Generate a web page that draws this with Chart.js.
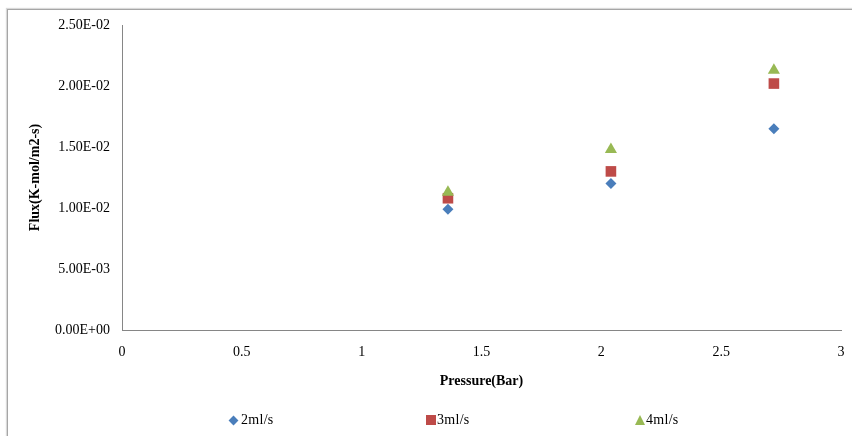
<!DOCTYPE html>
<html>
<head>
<meta charset="utf-8">
<script src="https://cdn.jsdelivr.net/npm/chart.js@4/dist/chart.umd.min.js"></script>
<style>
  body { margin: 0; background: #fff; overflow: hidden; }
  #wrap { position: relative; width: 852px; height: 436px; }
  #frame { position: absolute; left: 7px; top: 9px; width: 900px; height: 500px;
           border-top: 1px solid #a6a6a6; border-left: 1px solid #a6a6a6;
           box-shadow: -1px -1px 1px #d9d9d9; }
  #fluxChart { position: absolute; left: 0; top: 0; }
  .legend-item { position: absolute; top: 412px; font: 14px "Liberation Serif", "Times New Roman", serif;
                 color: #000; display: flex; align-items: center; white-space: nowrap; letter-spacing: 0.3px; }
  .mk { display: inline-block; margin-right: 2px; }
</style>
</head>
<body>
<div id="wrap">
  <div id="frame"></div>
  <canvas id="fluxChart" width="852" height="436"></canvas>
</div>
<script>
// values
const pressure = [1.36, 2.04, 2.72];
const flux2 = [0.0099, 0.0120, 0.0165];
const flux3 = [0.0108, 0.0130, 0.0202];
const flux4 = [0.0113, 0.0148, 0.0213];
const seriesNames = ['2ml/s', '3ml/s', '4ml/s'];

const colors = ['#4a7ebb', '#be4b48', '#98b954'];
const shapes = ['rectRot', 'rect', 'triangle'];
const radii = [5.5, 7.5, 7];
const legendLeft = [228, 426, 635];

const serif = '"Liberation Serif", "Times New Roman", serif';

function toPoints(ys) {
    return pressure.map((x, i) => ({ x: x, y: ys[i] }));
}

// Excel style scientific labels, e.g. 2.50E-02
function sciLabel(v) {
    const s = Number(v).toExponential(2).toUpperCase();
    const parts = s.split('E');
    const sign = parts[1][0];
    const exp = parts[1].slice(1).padStart(2, '0');
    return parts[0] + 'E' + sign + exp;
}

const datasets = [flux2, flux3, flux4].map((ys, i) => ({
    label: seriesNames[i],
    data: toPoints(ys),
    pointStyle: shapes[i],
    pointRadius: radii[i],
    pointHoverRadius: radii[i],
    backgroundColor: colors[i],
    borderColor: colors[i],
    borderWidth: 0,
    showLine: false,
    order: 3 - i
}));

const ctx = document.getElementById('fluxChart').getContext('2d');
new Chart(ctx, {
    type: 'scatter',
    data: { datasets },
    options: {
        responsive: false,
        devicePixelRatio: 1,
        animation: false,
        layout: { padding: { left: 7, top: 25, right: 11, bottom: 0 } },
        plugins: {
            legend: { display: false },
            tooltip: { enabled: false }
        },
        scales: {
            x: {
                type: 'linear',
                min: 0,
                max: 3,
                ticks: {
                    stepSize: 0.5,
                    padding: 3,
                    color: '#000',
                    font: { family: serif, size: 14 },
                    callback: (v) => String(Math.round(v * 10) / 10)
                },
                // grid hidden, tick length only used as the gap under the axis
                grid: { display: false, drawTicks: true, tickLength: 11 },
                border: { display: true, color: '#868686', width: 1 },
                title: {
                    display: true,
                    text: 'Pressure(Bar)',
                    color: '#000',
                    font: { family: serif, size: 14, weight: 'bold' },
                    padding: { top: 0, bottom: 46 }
                },
                afterFit(scale) { scale.height = 106; }
            },
            y: {
                type: 'linear',
                min: 0,
                max: 0.025,
                ticks: {
                    stepSize: 0.005,
                    padding: 12,
                    color: '#000',
                    font: { family: serif, size: 14 },
                    callback: (v) => sciLabel(v)
                },
                grid: { display: false, drawTicks: false },
                border: { display: true, color: '#868686', width: 1 },
                title: {
                    display: true,
                    text: 'Flux(K-mol/m2-s)',
                    color: '#000',
                    font: { family: serif, size: 14, weight: 'bold' },
                    padding: { top: 20, bottom: 0 }
                },
                afterFit(scale) { scale.width = 115; }
            }
        }
    }
});

// legend row under the chart, built from the same series lists
const wrap = document.getElementById('wrap');
seriesNames.forEach((name, i) => {
    const item = document.createElement('div');
    item.className = 'legend-item';
    item.style.left = legendLeft[i] + 'px';
    const mk = document.createElement('span');
    mk.className = 'mk';
    if (shapes[i] === 'rectRot') {
        mk.style.cssText = 'width:7px;height:7px;background:' + colors[i] + ';transform:rotate(45deg);margin:0 4px 0 2px;';
    } else if (shapes[i] === 'rect') {
        mk.style.cssText = 'width:10px;height:10px;background:' + colors[i] + ';margin-right:1px;';
    } else {
        mk.style.cssText = 'width:0;height:0;border-left:5px solid transparent;border-right:5px solid transparent;border-bottom:10px solid ' + colors[i] + ';margin-right:1px;';
    }
    item.appendChild(mk);
    item.appendChild(document.createTextNode(name));
    wrap.appendChild(item);
});
</script>
</body>
</html>
